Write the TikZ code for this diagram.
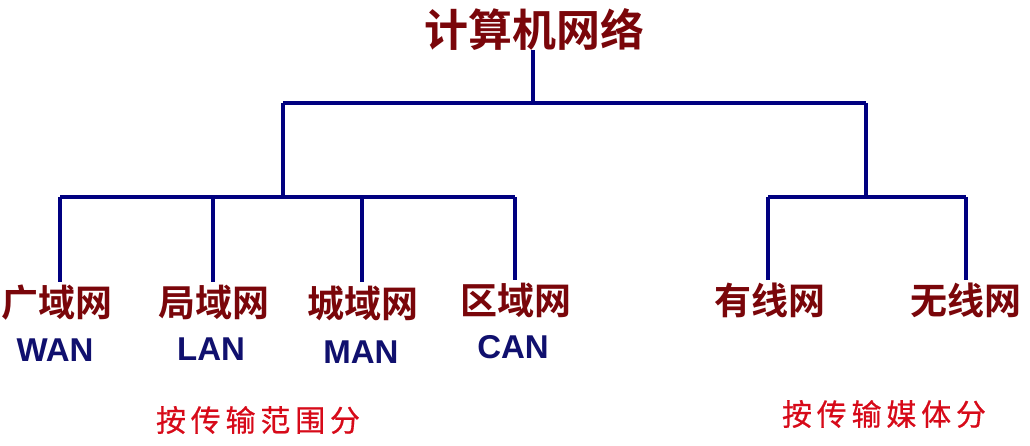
\documentclass[tikz,border=0pt]{standalone}
\usepackage{fontspec}
\setmainfont{Liberation Sans}
\newfontfamily\cjkb[BoldFont={Noto Sans CJK SC Bold}]{Noto Sans CJK SC}
\newfontfamily\cjkr[LetterSpace=16,FakeBold=0.6]{Noto Sans CJK SC}
\definecolor{navyline}{RGB}{0,0,128}
\definecolor{darkred}{RGB}{122,6,10}
\definecolor{brightred}{RGB}{215,10,25}
\definecolor{navytext}{RGB}{16,16,110}
\begin{document}
\begin{tikzpicture}[x=1pt,y=-1pt,
  conn/.style={draw=navyline,line width=3.6pt},
  title/.style={text=darkred,font=\cjkb\bfseries\fontsize{44}{48}\selectfont,inner sep=0pt},
  leaf/.style={text=darkred,font=\cjkb\bfseries\fontsize{37}{40}\selectfont,inner sep=0pt,outer ysep=3pt},
  abbr/.style={text=navytext,font=\bfseries\fontsize{33}{36}\selectfont,inner sep=0pt},
  group/.style={text=brightred,font=\cjkr\fontsize{30}{32}\selectfont,inner sep=0pt}]
\useasboundingbox[fill=white] (0,0) rectangle (1030,445);
\node[title] (root) at (534,29) {计算机网络};
\coordinate (hub) at (533,103);
\coordinate (lhub) at (283,103);
\coordinate (rhub) at (866,103);
\coordinate (lbar) at (283,197);
\coordinate (rbar) at (866,197);
\coordinate (p1) at (60,197);
\coordinate (p2) at (213,197);
\coordinate (p3) at (362,197);
\coordinate (p4) at (515,197);
\coordinate (p5) at (768,197);
\coordinate (p6) at (966,197);
\node[leaf] (wan) at (57,303) {广域网};
\node[leaf] (lan) at (214,302) {局域网};
\node[leaf] (man) at (363,303) {城域网};
\node[leaf] (can) at (516,300) {区域网};
\node[leaf] (wired) at (770,300) {有线网};
\node[leaf] (wless) at (966,300) {无线网};
\node[abbr] (wanA) at (55,350) {WAN};
\node[abbr] (lanA) at (211,349) {LAN};
\node[abbr] (manA) at (361,352) {MAN};
\node[abbr] (canA) at (513,347) {CAN};
\node[group] (g1) at (258,420) {按传输范围分};
\node[group] (g2) at (884,414) {按传输媒体分};
\draw[conn] (root.south -| hub) -- (hub);
\draw[conn] (lhub) -- (rhub);
\draw[conn] (lhub) -- (lbar);
\draw[conn] (rhub) -- (rbar);
\draw[conn] (p1) -- (p4);
\draw[conn] (p5) -- (p6);
\draw[conn] (p1) -- (p1 |- wan.north);
\draw[conn] (p2) -- (p2 |- lan.north);
\draw[conn] (p3) -- (p3 |- man.north);
\draw[conn] (p4) -- (p4 |- can.north);
\draw[conn] (p5) -- (p5 |- wired.north);
\draw[conn] (p6) -- (p6 |- wless.north);
\end{tikzpicture}
\end{document}
